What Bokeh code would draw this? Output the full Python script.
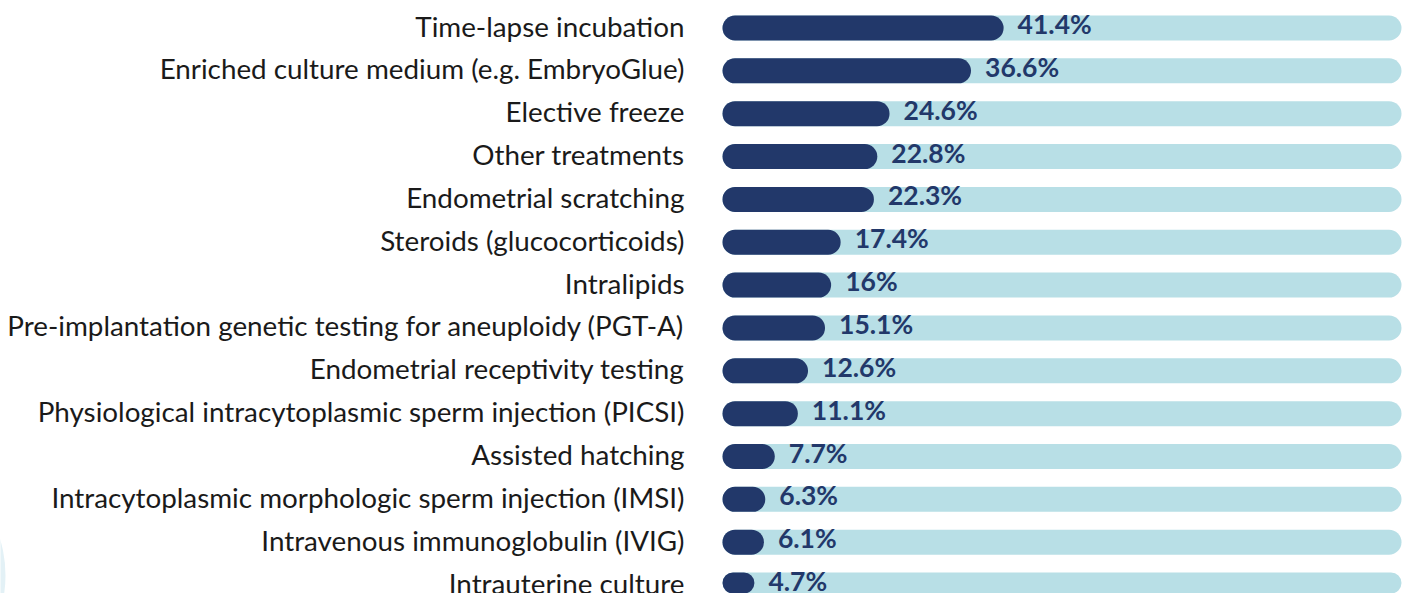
from bokeh.plotting import figure
from bokeh.models import ColumnDataSource, Range1d
from bokeh.core.properties import value
from bokeh.embed import file_html
from bokeh.resources import INLINE

categories = [
    "Time-lapse incubation",
    "Enriched culture medium (e.g. EmbryoGlue)",
    "Elective freeze",
    "Other treatments",
    "Endometrial scratching",
    "Steroids (glucocorticoids)",
    "Intralipids",
    "Pre-implantation genetic testing for aneuploidy (PGT-A)",
    "Endometrial receptivity testing",
    "Physiological intracytoplasmic sperm injection (PICSI)",
    "Assisted hatching",
    "Intracytoplasmic morphologic sperm injection (IMSI)",
    "Intravenous immunoglobulin (IVIG)",
    "Intrauterine culture",
]
values = [41.4, 36.6, 24.6, 22.8, 22.3, 17.4, 16, 15.1, 12.6, 11.1, 7.7, 6.3, 6.1, 4.7]
track_max = 100

rows = list(range(len(categories)))
src = ColumnDataSource(dict(
    y=rows,
    cat=categories,
    v=values,
    full=[track_max] * len(values),
    lbl=[f"{v:g}%" for v in values],
))

W, H = 1410, 593
px_per_unit = 6.79
x0_px = 722
row_px = 42.85
top_px = 27.5
x_start = -x0_px / px_per_unit
x_end = (W - x0_px) / px_per_unit
y_top = -top_px / row_px
y_bot = y_top + H / row_px
label_x = (684 - x0_px) / px_per_unit

p = figure(width=W, height=H, output_backend="svg", toolbar_location=None,
           x_range=Range1d(x_start, x_end), y_range=Range1d(y_bot, y_top),
           min_border=0, outline_line_color=None)
p.axis.visible = False
p.grid.visible = False
p.background_fill_color = "white"
p.border_fill_color = "white"

# faint decorative circle at the lower-left edge
p.circle(x=[x_start - 120 / px_per_unit], y=[y_top + 575 / row_px],
         radius=125 / px_per_unit, fill_color="#e3f1f6", line_color=None)

bh = 25 / row_px
p.hbar(y="y", left=0, right="full", height=bh, source=src,
       fill_color="#b8dfe6", line_color=None, border_radius=13)
p.hbar(y="y", left=0, right="v", height=bh, source=src,
       fill_color="#22386a", line_color=None, border_radius=13)

p.text(x="v", y="y", text="lbl", source=src, x_offset=14, y_offset=-4,
       text_align="left", text_baseline="middle",
       text_font=value("Lato"), text_font_style="bold",
       text_font_size="26.5px", text_color="#22386a")

p.text(x=label_x, y="y", text="cat", source=src, y_offset=-2,
       text_align="right", text_baseline="middle",
       text_font=value("Lato"), text_font_size="27.8px", text_color="#1a1a1a")

open("out.html", "w").write(file_html(p, INLINE))
